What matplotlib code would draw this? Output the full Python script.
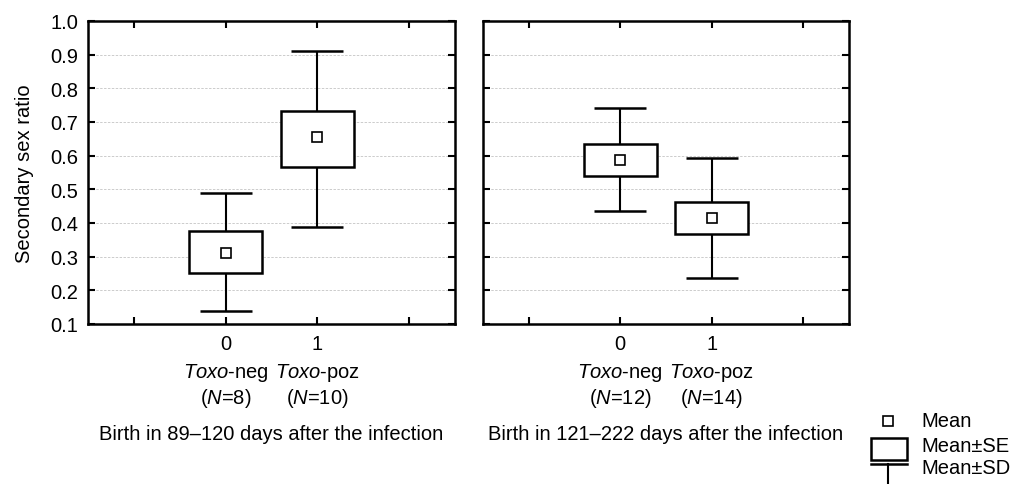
import matplotlib.pyplot as plt
from matplotlib.patches import Rectangle
from matplotlib.lines import Line2D
import matplotlib.transforms as mtransforms

plt.rcParams['font.family'] = 'Liberation Sans'
plt.rcParams['mathtext.fontset'] = 'custom'
plt.rcParams['mathtext.rm'] = 'Liberation Sans'
plt.rcParams['mathtext.it'] = 'Liberation Sans:italic'
plt.rcParams['font.size'] = 14.5

groups = [0, 1]
group_names = ['$\\mathit{Toxo}$-neg', '$\\mathit{Toxo}$-poz']

# left panel: birth 89-120 days
left_n = [8, 10]
left_mean = [0.311, 0.654]
left_se_lo = [0.251, 0.567]
left_se_hi = [0.377, 0.732]
left_sd_lo = [0.138, 0.389]
left_sd_hi = [0.489, 0.910]

# right panel: birth 121-222 days
right_n = [12, 14]
right_mean = [0.587, 0.416]
right_se_lo = [0.541, 0.368]
right_se_hi = [0.634, 0.463]
right_sd_lo = [0.436, 0.238]
right_sd_hi = [0.741, 0.594]

titles = ['Birth in 89\u2013120 days after the infection',
          'Birth in 121\u2013222 days after the infection']

fig = plt.figure(figsize=(10.16, 4.85), dpi=100)
W, H = 1016, 485
top, bottom = 22, 325
ax1 = fig.add_axes([88 / W, (H - bottom) / H, 367 / W, (bottom - top) / H])
ax2 = fig.add_axes([483 / W, (H - bottom) / H, 366 / W, (bottom - top) / H])


def draw_panel(ax, n, mean, se_lo, se_hi, sd_lo, sd_hi, title, first):
    ax.set_xlim(-1.5, 2.5)
    ax.set_ylim(0.1, 1.0)
    ax.set_yticks([0.1 * i for i in range(1, 11)])
    for y in [0.1 * i for i in range(2, 10)]:
        ax.axhline(y, color='#cccccc', lw=0.7, ls=(0, (2.5, 1.5)), zorder=0)
    yerr = [[m - lo for m, lo in zip(mean, sd_lo)],
            [hi - m for m, hi in zip(mean, sd_hi)]]
    ax.errorbar(groups, mean, yerr=yerr, fmt='none', ecolor='black',
                elinewidth=1.5, capsize=19, capthick=1.8, zorder=2)
    ax.bar(groups, [h - l for h, l in zip(se_hi, se_lo)], bottom=se_lo,
           width=0.8, color='white', edgecolor='black', linewidth=1.8,
           zorder=3)
    ax.plot(groups, mean, 's', ms=6.5, mfc='white', mec='black', mew=1.2,
            zorder=4)
    ax.set_xticks([-1, 0, 1, 2])
    ax.set_xticklabels(['', '0', '1', ''])
    ax.tick_params(direction='in', top=True, right=True, length=5,
                   width=1.5, pad=7)
    if first:
        ax.set_yticklabels(['%.1f' % (0.1 * i) for i in range(1, 11)])
        ax.set_ylabel('Secondary sex ratio', labelpad=12)
    else:
        ax.set_yticklabels([])
    for s in ax.spines.values():
        s.set_linewidth(1.8)
    trans = mtransforms.blended_transform_factory(ax.transData, ax.transAxes)
    for g, name, cnt in zip(groups, group_names, n):
        ax.text(g, -0.158, name, transform=trans, ha='center', va='center')
        ax.text(g, -0.241, '($\\mathit{N}$=%d)' % cnt, transform=trans,
                ha='center', va='center')
    ax.text(0.5, -0.363, title, transform=ax.transAxes, ha='center',
            va='center')


draw_panel(ax1, left_n, left_mean, left_se_lo, left_se_hi, left_sd_lo,
           left_sd_hi, titles[0], True)
draw_panel(ax2, right_n, right_mean, right_se_lo, right_se_hi, right_sd_lo,
           right_sd_hi, titles[1], False)

# legend drawn in pixel space
leg = fig.add_axes([0, 0, 1, 1], zorder=-1)
leg.set_xlim(0, W)
leg.set_ylim(H, 0)
leg.axis('off')
leg.plot([888], [422], 's', ms=6.5, mfc='white', mec='black', mew=1.2)
leg.add_patch(Rectangle((871, 439), 36, 22, fill=False, ec='black', lw=1.8))
leg.add_line(Line2D([871, 907], [465, 465], color='black', lw=1.8))
leg.add_line(Line2D([888, 888], [465, 485], color='black', lw=1.5))
leg.text(921, 422, 'Mean', va='center', ha='left')
leg.text(921, 447, 'Mean\u00b1SE', va='center', ha='left')
leg.text(921, 469, 'Mean\u00b1SD', va='center', ha='left')

fig.savefig('out.png', dpi=100)
